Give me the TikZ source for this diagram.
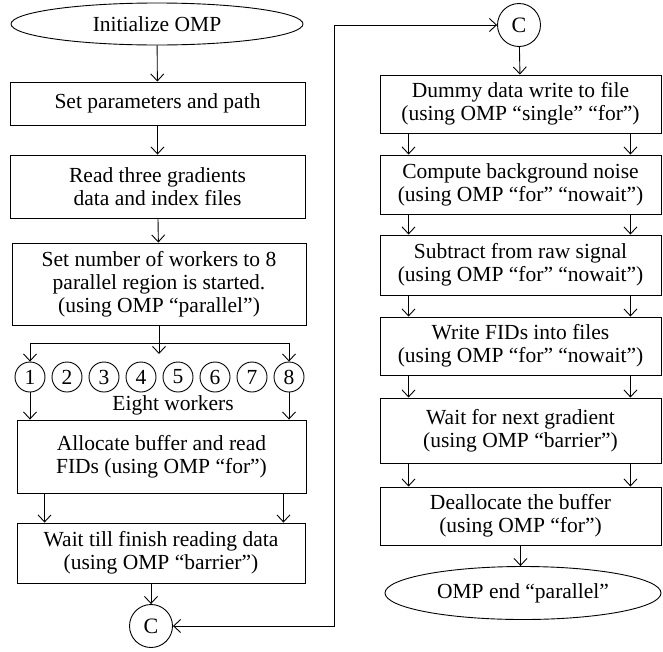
\documentclass[tikz,border=0pt]{standalone}
\usepackage{fontspec}
\setmainfont{Liberation Serif}
\usetikzlibrary{shapes.geometric,arrows.meta}

\begin{document}
\begin{tikzpicture}[x=1pt, y=-1pt, line width=0.9pt,
	every node/.style={font=\fontsize{21.5}{23}\selectfont, align=center, inner sep=0pt},
	box/.style={draw, rectangle},
	rbox/.style={draw, rectangle, minimum width=281},
	ell/.style={draw, ellipse},
	wk/.style={draw, circle, minimum size=30},
	con/.style={draw, circle, minimum size=43, font=\fontsize{22}{22}\selectfont},
	arr/.style={arrows={-Straight Barb[length=7pt,width=13pt]}},
	arrtwo/.style={arrows={Straight Barb[length=7pt,width=13pt]-Straight Barb[length=7pt,width=13pt]}}]

	\useasboundingbox (0,0) rectangle (663,651);

	\node [ell, minimum width=292, minimum height=42] (init) at (157,24) {Initialize OMP};
	\node [box, minimum width=295, minimum height=43] (par) at (157.5,103.5) {Set parameters and path};
	\node [box, minimum width=295, minimum height=63] (rd) at (157.5,186.5) {Read three gradients\\data and index files};
	\node [box, minimum width=294, minimum height=82] (nw) at (159,284) {Set number of workers to 8\\parallel region is started.\\(using OMP “parallel”)};
	\coordinate (fork) at (159,343);
	\coordinate (mid) at (159,354);
	\foreach \i in {1,...,8}
		\node [wk] (w\i) at ({30+37*(\i-1)},377) {\i};
	\node (eight) at (173,405) {Eight workers};
	\node [box, minimum width=289, minimum height=73] (alloc) at (161.5,456.5) {Allocate buffer and read\\FIDs (using OMP “for”)};
	\node [box, minimum width=288, minimum height=60] (wt) at (161,553) {Wait till finish reading data\\(using OMP “barrier”)};
	\node [con] (cl) at (151,626) {C};

	\node [con] (cr) at (519,25) {C};
	\node [rbox, minimum height=58] (dum) at (520.5,104) {Dummy data write to file\\(using OMP “single” “for”)};
	\node [rbox, minimum height=59] (bg) at (520.5,184.5) {Compute background noise\\(using OMP “for” “nowait”)};
	\node [rbox, minimum height=60] (sub) at (520.5,265) {Subtract from raw signal\\(using OMP “for” “nowait”)};
	\node [rbox, minimum height=58] (fid) at (520.5,346) {Write FIDs into files\\(using OMP “for” “nowait”)};
	\node [rbox, minimum height=65] (nxt) at (520.5,430.5) {Wait for next gradient\\(using OMP “barrier”)};
	\node [rbox, minimum height=58] (dea) at (520.5,516) {Deallocate the buffer\\(using OMP “for”)};
	\node [ell, minimum width=276, minimum height=53] (fin) at (523,593) {OMP end “parallel”};
	\coordinate (bend) at (334,0);

	\draw [arr] (init) -- (par);
	\draw [arr] (par) -- (rd);
	\draw [arr] (rd) -- (nw);
	\draw [arr] (nw) -- (mid);
	\draw (w1 |- fork) -- (w8 |- fork);
	\draw [arr] (w1 |- fork) -- (w1);
	\draw [arr] (w8 |- fork) -- (w8);
	\draw [arr] (w1) -- (w1 |- alloc.north);
	\draw [arr] (w8) -- (w8 |- alloc.north);
	\draw [arr] ([xshift=28]alloc.south west) -- ([xshift=28]alloc.south west |- wt.north);
	\draw [arr] ([xshift=-23]alloc.south east) -- ([xshift=-23]alloc.south east |- wt.north);
	\draw [arr] (wt.south -| cl) -- (cl);
	\draw [arrtwo] (cl) -- (cl -| bend) -- (bend |- cr) -- (cr);

	\draw [arr] (cr) -- (dum);
	\foreach \a/\b in {dum/bg, bg/sub, sub/fid, fid/nxt, nxt/dea} {
		\draw [arr] ([xshift=29]\a.south west) -- ([xshift=29]\a.south west |- \b.north);
		\draw [arr] ([xshift=-31]\a.south east) -- ([xshift=-31]\a.south east |- \b.north);
	}
	\draw [arr] (dea.south) -- (dea.south |- fin.north);

\end{tikzpicture}
\end{document}
